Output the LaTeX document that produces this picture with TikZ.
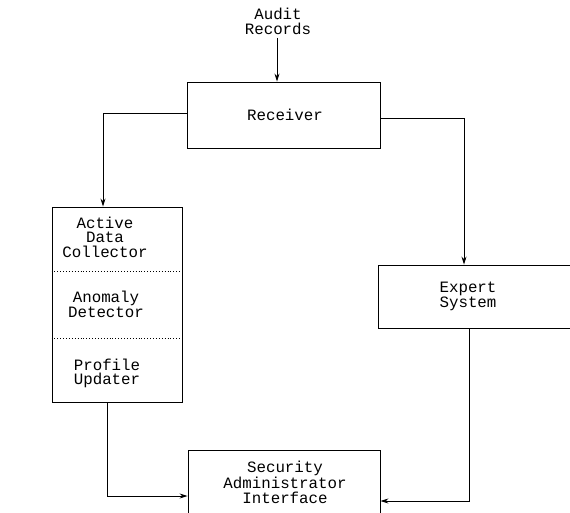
\documentclass[tikz,border=0pt]{standalone}
\usepackage{fontspec}
\setmonofont{Liberation Mono}
\usetikzlibrary{arrows.meta}
\begin{document}
\begin{tikzpicture}[x=1pt,y=-1pt,
  every node/.style={font=\ttfamily\fontsize{15.8}{14.6}\selectfont, align=center, inner sep=0pt},
  blk/.style={draw, line width=0.9pt, rectangle},
  link/.style={line width=0.8pt, -{Stealth[length=8pt,width=5pt]}},
  sep/.style={line width=0.9pt, dotted}]
\useasboundingbox (0,0) rectangle (570,513);
\clip (0,0) rectangle (570,513);

% boxes
\node[blk, minimum width=193pt, minimum height=66pt] (rec) at (283.5,115) {};
\node at (285,115) {Receiver};
\node (audit) at (278,21.5) {Audit\\Records};

\node[blk, minimum width=130pt, minimum height=195pt] (ids) at (117,304.5) {};
\node (adc) at (105,237) {Active\\Data\\Collector};
\node (anom) at (106,304.5) {Anomaly\\Detector};
\node (prof) at (107,373.5) {Profile\\Updater};
\draw[sep] (ids.west |- 0,271) -- (ids.east |- 0,271);
\draw[sep] (ids.west |- 0,338) -- (ids.east |- 0,338);

\node[blk, minimum width=200pt, minimum height=63pt] (exp) at (478,296.5) {};
\node at (468,296.5) {Expert\\System};

\node[blk, minimum width=192pt, minimum height=80pt] (sai) at (284,490) {};
\node at (285,482.5) {Security\\Administrator\\Interface};

% connectors
\coordinate (a1) at (277,38);
\draw[link] (a1) -- (rec.north -| a1);
\draw[link] ([yshift=2pt]rec.west) -| ([xshift=-14pt]ids.north);
\draw[link] ([yshift=-3pt]rec.east) -| ([xshift=-14pt]exp.north);
\draw[link] ([xshift=-10pt]ids.south) |- ([yshift=-6pt]sai.west);
\draw[link] ([xshift=-9pt]exp.south) |- ([yshift=-11pt]sai.east);
\end{tikzpicture}
\end{document}
